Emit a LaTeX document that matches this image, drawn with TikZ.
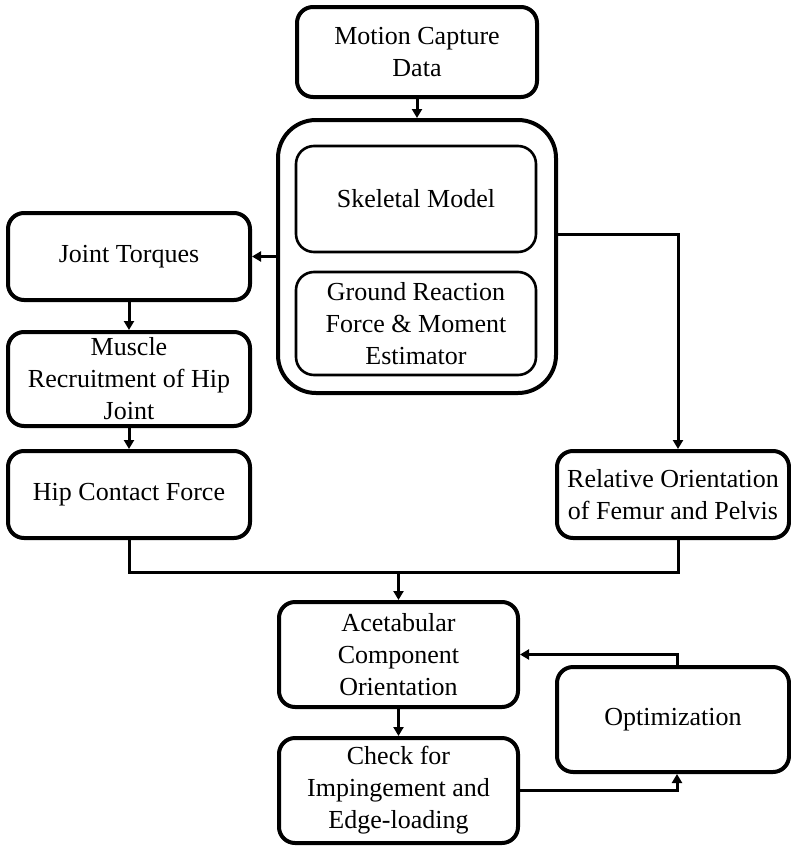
\documentclass[tikz,border=0pt]{standalone}
\usepackage{fontspec}
\setmainfont{Liberation Serif}
\usetikzlibrary{arrows.meta}
\begin{document}
\begin{tikzpicture}[x=1pt,y=-1pt,
    box/.style={draw,line width=4pt,rounded corners=16pt,inner sep=0pt,
        align=center,font=\fontsize{26}{32}\selectfont},
    inbox/.style={box,line width=2.6pt,rounded corners=18pt}]
    \useasboundingbox (0,0) rectangle (791,846);

    % model
    \node[box,minimum width=240pt,minimum height=90pt] (mocap) at (417,52) {Motion Capture\\Data};
    \node[box,rounded corners=38pt,minimum width=278pt,minimum height=273pt] (model) at (417,256.5) {};
    \node[inbox,minimum width=240pt,minimum height=106pt] (skel) at (416,199) {Skeletal Model};
    \node[inbox,minimum width=240pt,minimum height=103pt] (grf) at (416,323.5) {Ground Reaction\\Force \& Moment\\Estimator};

    % left column
    \node[box,minimum width=242pt,minimum height=87pt] (torque) at (129,256.5) {Joint Torques};
    \node[box,minimum width=242pt,minimum height=94pt] (muscle) at (129,379) {Muscle\\Recruitment of Hip\\Joint};
    \node[box,minimum width=242pt,minimum height=87pt] (hcf) at (129,494.5) {Hip Contact Force};

    % right column
    \node[box,minimum width=232pt,minimum height=87pt] (rel) at (673,494.5) {Relative Orientation\\of Femur and Pelvis};

    % bottom
    \node[box,minimum width=239pt,minimum height=105pt] (acet) at (398.5,654.5) {Acetabular\\Component\\Orientation};
    \node[box,minimum width=239pt,minimum height=105pt] (check) at (398.5,790.5) {Check for\\Impingement and\\Edge-loading};
    \node[box,minimum width=232pt,minimum height=105pt] (opt) at (673,719.5) {Optimization};

    \coordinate (split) at (678,234);
    \coordinate (merge) at (398.5,572);

    \begin{scope}[line width=3pt,-{Triangle[length=9pt,width=10pt]}]
        \draw (mocap) -- (model);
        \draw (model) -- (torque);
        \draw (torque) -- (muscle);
        \draw (muscle) -- (hcf);
        \draw (model.east |- split) -| ([xshift=5pt]rel.north);
        \draw (merge) -- (acet);
        \draw (acet) -- (check);
        \draw (check.east) -| ([xshift=4pt]opt.south);
        \draw ([xshift=4pt]opt.north) |- (acet.east);
    \end{scope}
    \draw[line width=3pt] (hcf.south) |- (merge) -| ([xshift=5pt]rel.south);
\end{tikzpicture}
\end{document}
